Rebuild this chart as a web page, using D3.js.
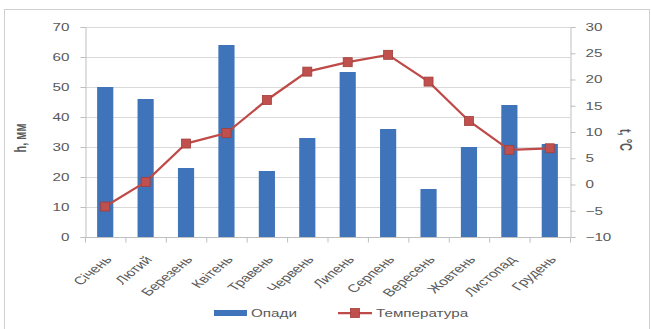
<!DOCTYPE html>
<html>
<head>
<meta charset="utf-8">
<script src="https://cdn.jsdelivr.net/npm/d3@7"></script>
<style>
  html, body { margin: 0; padding: 0; background: #fff; }
  svg { display: block; }
  text { font-family: "Liberation Sans", Arial, sans-serif; fill: #595959; }
</style>
</head>
<body>
<svg id="chart" width="651" height="329"></svg>
<script>
// Monthly precipitation (mm) and mean temperature (°C)
const months = ["Січень", "Лютий", "Березень", "Квітень", "Травень", "Червень",
                "Липень", "Серпень", "Вересень", "Жовтень", "Листопад", "Грудень"];
const precipitation = [50, 46, 23, 64, 22, 33, 55, 36, 16, 30, 44, 31];
const temperature = [-4.2, 0.5, 7.8, 9.8, 16.1, 21.5, 23.3, 24.7, 19.6, 12.1, 6.6, 6.9];
const leftTicks = [0, 10, 20, 30, 40, 50, 60, 70];
const rightTicks = [-10, -5, 0, 5, 10, 15, 20, 25, 30];
const legendLabels = ["Опади", "Температура"];
const axisTitles = ["h, мм", "t, °C"];

const svg = d3.select("#chart");
const plot = { left: 85, right: 570, top: 27, bottom: 237 };
const SX = 1.45;          // wide lettering: horizontal stretch of all text
const FS = 10;            // base font size

// chart frame
svg.append("rect")
  .attr("x", 4.5).attr("y", 9.5)
  .attr("width", 645).attr("height", 330)
  .attr("fill", "#fff").attr("stroke", "#d0d0d0").attr("stroke-width", 1);

const x = d3.scaleBand().domain(months).range([plot.left, plot.right]).paddingInner(0).paddingOuter(0);
const yL = d3.scaleLinear().domain([0, 70]).range([plot.bottom, plot.top]);
const yR = d3.scaleLinear().domain([-10, 30]).range([plot.bottom, plot.top]);

// gridlines
svg.append("g")
  .selectAll("line").data(leftTicks.filter(d => d > 0)).join("line")
  .attr("x1", plot.left).attr("x2", plot.right)
  .attr("y1", d => Math.round(yL(d)) + 0.5).attr("y2", d => Math.round(yL(d)) + 0.5)
  .attr("stroke", "#d9d9d9").attr("stroke-width", 1);

// value axes
const gL = svg.append("g").attr("transform", `translate(${plot.left + 0.5},0)`)
  .call(d3.axisLeft(yL).tickValues(leftTicks).tickSize(5));
const gR = svg.append("g").attr("transform", `translate(${plot.right + 0.5},0)`)
  .call(d3.axisRight(yR).tickValues(rightTicks).tickSize(5));
[[gL, -16], [gR, 15]].forEach(([g, off]) => {
  g.select(".domain").attr("stroke", "#bfbfbf");
  g.selectAll(".tick line").attr("stroke", "#bfbfbf");
  g.selectAll(".tick text")
    .attr("x", null)
    .attr("transform", `translate(${off},0) scale(${SX},1)`)
    .attr("font-size", FS + 0.5).attr("fill", "#595959")
    .attr("font-family", "'Liberation Sans', Arial, sans-serif");
});

// precipitation bars
const barW = x.bandwidth() / 2.5;
svg.append("g").selectAll("rect").data(precipitation).join("rect")
  .attr("x", (d, i) => x(months[i]) + (x.bandwidth() - barW) / 2)
  .attr("y", d => yL(d))
  .attr("width", barW)
  .attr("height", d => yL(0) - yL(d))
  .attr("fill", "#3f74ba");

// category axis
const gB = svg.append("g").attr("transform", `translate(0,${plot.bottom + 0.5})`);
gB.append("line").attr("x1", plot.left).attr("x2", plot.right).attr("stroke", "#bfbfbf");
gB.selectAll("line.tk").data(d3.range(months.length + 1)).join("line")
  .attr("class", "tk")
  .attr("x1", i => plot.left + i * x.bandwidth() + 0.5).attr("x2", i => plot.left + i * x.bandwidth() + 0.5)
  .attr("y1", 0).attr("y2", 5).attr("stroke", "#bfbfbf");
gB.selectAll("text").data(months).join("text")
  .attr("transform", d => `translate(${x(d) + x.bandwidth() / 2 + 3},${20}) scale(${SX},1) rotate(-50)`)
  .attr("text-anchor", "end")
  .attr("dy", "0.35em")
  .attr("font-size", FS + 1)
  .text(d => d);

// temperature line with square markers
const line = d3.line()
  .x((d, i) => x(months[i]) + x.bandwidth() / 2)
  .y(d => yR(d));
svg.append("path").datum(temperature)
  .attr("d", line)
  .attr("fill", "none").attr("stroke", "#be4b48").attr("stroke-width", 2.25);
svg.append("g").selectAll("rect").data(temperature).join("rect")
  .attr("x", (d, i) => x(months[i]) + x.bandwidth() / 2 - 4.5)
  .attr("y", d => yR(d) - 4.5)
  .attr("width", 9).attr("height", 9)
  .attr("fill", "#c0504d").attr("stroke", "#a13d3a").attr("stroke-width", 0.8);

// axis titles
svg.append("text")
  .attr("transform", `translate(26,138) scale(${SX},1) rotate(-90)`)
  .attr("text-anchor", "middle").attr("font-size", 11).attr("font-weight", "bold")
  .attr("fill", "#404040")
  .text(axisTitles[0]);
svg.append("text")
  .attr("transform", `translate(620,140) scale(${SX},1) rotate(90)`)
  .attr("text-anchor", "middle").attr("font-size", 11).attr("font-weight", "bold")
  .attr("fill", "#404040")
  .text(axisTitles[1]);

// legend
const lg = svg.append("g").attr("transform", "translate(0,313)");
lg.append("rect").attr("x", 214).attr("y", -3).attr("width", 33).attr("height", 6).attr("fill", "#3f74ba");
lg.append("text").attr("transform", `translate(251,0) scale(${SX},1)`)
  .attr("dy", "0.35em").attr("font-size", FS + 0.5).text(legendLabels[0]);
lg.append("line").attr("x1", 338).attr("x2", 372).attr("y1", 0).attr("y2", 0)
  .attr("stroke", "#be4b48").attr("stroke-width", 2.25);
lg.append("rect").attr("x", 350.5).attr("y", -4.5).attr("width", 9).attr("height", 9)
  .attr("fill", "#c0504d").attr("stroke", "#a13d3a").attr("stroke-width", 0.8);
lg.append("text").attr("transform", `translate(376,0) scale(${SX},1)`)
  .attr("dy", "0.35em").attr("font-size", FS + 0.5).text(legendLabels[1]);
</script>
</body>
</html>
